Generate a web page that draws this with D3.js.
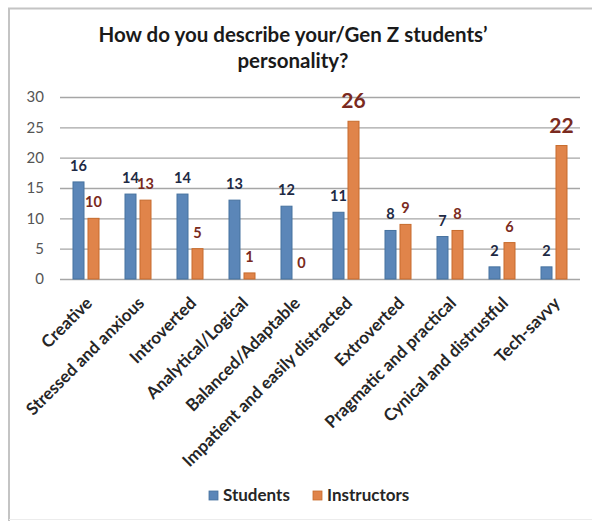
<!DOCTYPE html>
<html>
<head>
<meta charset="utf-8">
<script src="https://cdn.jsdelivr.net/npm/d3@7"></script>
<style>
  html, body { margin: 0; padding: 0; background: #fff; }
  svg { display: block; font-family: Lato, "Open Sans", sans-serif; }
</style>
</head>
<body>
<svg id="chart" width="592" height="521"></svg>
<script>
// Survey answers: personality traits named for Gen Z students
const categories = [
  "Creative", "Stressed and anxious", "Introverted", "Analytical/Logical",
  "Balanced/Adaptable", "Impatient and easily distracted", "Extroverted",
  "Pragmatic and practical", "Cynical and distrustful", "Tech-savvy"
];
const seriesNames = ["Students", "Instructors"];
const students    = [16, 14, 14, 13, 12, 11, 8, 7, 2, 2];
const instructors = [10, 13, 5, 1, 0, 26, 9, 8, 6, 22];
const yTicks = [0, 5, 10, 15, 20, 25, 30];
const titleLines = ["How do you describe your/Gen Z students\u2019", "personality?"];

const fills   = { Students: "#5b86b8", Instructors: "#e0844a" };
const strokes = { Students: "#46729f", Instructors: "#c76b2c" };
const labelColors = { Students: "#1e2a44", Instructors: "#7a2a20" };

const svg = d3.select("#chart");

// chart frame
svg.append("path")
  .attr("d", "M9,521 L9,8.5 L592,8.5")
  .attr("fill", "none").attr("stroke", "#c4c4c4").attr("stroke-width", 2);
svg.append("line")
  .attr("x1", 9).attr("x2", 592).attr("y1", 519.5).attr("y2", 519.5)
  .attr("stroke", "#ececec").attr("stroke-width", 1);

// title
svg.append("text")
  .attr("text-anchor", "middle")
  .attr("font-weight", 700).attr("font-size", 20.5).attr("fill", "#1a1a1a")
  .selectAll("tspan").data(titleLines).join("tspan")
  .attr("x", 293).attr("y", (d, i) => 42 + i * 26).text(d => d);

const plot = { left: 60, right: 580, top: 97, bottom: 279 };

const x0 = d3.scaleBand().domain(categories)
  .range([plot.left, plot.right]).paddingInner(0.5).paddingOuter(0.25);
const x1 = d3.scaleBand().domain(seriesNames)
  .range([0, x0.bandwidth()]).paddingInner(4 / 15);
const y = d3.scaleLinear().domain([0, 30]).range([plot.bottom, plot.top]);

// gridlines and value axis
const yAxis = d3.axisLeft(y).tickValues(yTicks)
  .tickSize(-(plot.right - plot.left)).tickPadding(16);
const ya = svg.append("g").attr("transform", `translate(${plot.left},0)`).call(yAxis);
ya.select(".domain").remove();
ya.selectAll(".tick line").attr("stroke", "#a6a6a6").attr("stroke-width", 1.3);
ya.selectAll(".tick text")
  .attr("font-size", 15).attr("fill", "#555").attr("font-family", "Lato, sans-serif");

// category axis with slanted labels
const xa = svg.append("g").attr("transform", `translate(0,${plot.bottom})`)
  .call(d3.axisBottom(x0).tickSize(0).tickPadding(0));
xa.select(".domain").remove();
xa.selectAll(".tick text")
  .attr("font-size", 17).attr("font-weight", 700).attr("fill", "#262626")
  .attr("font-family", "Lato, sans-serif")
  .attr("text-anchor", "end")
  .attr("dy", "0.35em")
  .attr("transform", "translate(3,21) rotate(-45)");

// bars
const rows = categories.map((c, i) => ({
  category: c,
  values: [
    { key: "Students", value: students[i] },
    { key: "Instructors", value: instructors[i] }
  ]
}));

const groups = svg.append("g").selectAll("g").data(rows).join("g")
  .attr("transform", d => `translate(${x0(d.category)},0)`);

groups.selectAll("rect").data(d => d.values).join("rect")
  .attr("x", d => x1(d.key))
  .attr("width", x1.bandwidth())
  .attr("y", d => y(d.value))
  .attr("height", d => y(0) - y(d.value))
  .attr("fill", d => fills[d.key])
  .attr("stroke", d => strokes[d.key])
  .attr("stroke-width", 1);

// value labels; the two largest instructor counts are set larger
groups.selectAll("text").data(d => d.values).join("text")
  .attr("x", d => x1(d.key) + x1.bandwidth() / 2)
  .attr("y", d => y(d.value) - (d.value >= 20 ? 13 : 11))
  .attr("text-anchor", "middle")
  .attr("font-weight", 700)
  .attr("font-size", d => d.value >= 20 ? 21 : 14.5)
  .attr("fill", d => labelColors[d.key])
  .text(d => d.value);

// legend
const legend = svg.append("g").attr("transform", "translate(209,491)");
const legendX = [0, 104];
const items = legend.selectAll("g").data(seriesNames).join("g")
  .attr("transform", (d, i) => `translate(${legendX[i]},0)`);
items.append("rect")
  .attr("width", 9).attr("height", 9)
  .attr("fill", d => fills[d]).attr("stroke", d => strokes[d]).attr("stroke-width", 0.8);
items.append("text")
  .attr("x", 14).attr("y", 9.5)
  .attr("font-size", 17).attr("font-weight", 700).attr("fill", "#262626")
  .text(d => d);
</script>
</body>
</html>
